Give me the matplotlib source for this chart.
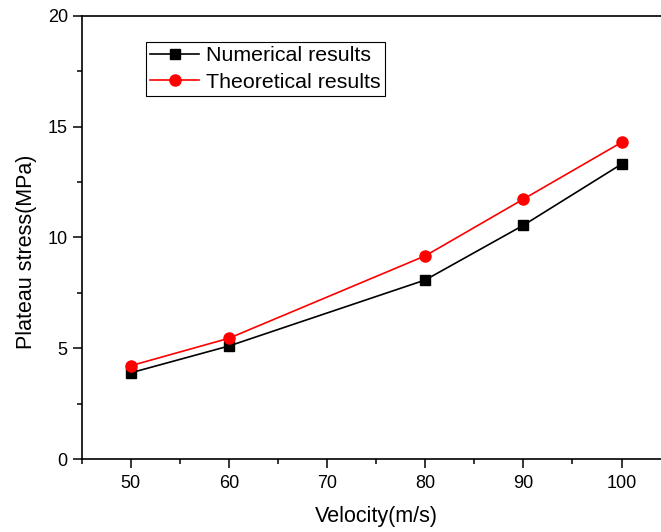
import numpy as np
import matplotlib.pyplot as plt
from matplotlib.ticker import MultipleLocator

# veri
hiz = [50, 60, 80, 90, 100]
sayisal = [3.89, 5.10, 8.08, 10.55, 13.31]
teorik = [4.21, 5.45, 9.17, 11.73, 14.29]

plt.rcParams['font.family'] = ['Liberation Sans', 'DejaVu Sans']

fig = plt.figure(figsize=(6.61, 5.32), dpi=100)
# eksen sag tarafi resmin disina tasiyor (orijinalde kirpilmis)
ax = fig.add_axes([0.1236, 0.1372, 0.891, 0.833])

ax.plot(hiz, sayisal, color="black", marker="s", markersize=7.5, linewidth=1.2,
        label="Numerical results")
ax.plot(hiz, teorik, color="red", marker="o", markersize=8, linewidth=1.2,
        label="Theoretical results")

ax.set_xlim(45, 105)
ax.set_ylim(0, 20)
ax.xaxis.set_major_locator(MultipleLocator(10))
ax.xaxis.set_minor_locator(MultipleLocator(5))
ax.yaxis.set_major_locator(MultipleLocator(5))
ax.yaxis.set_minor_locator(MultipleLocator(2.5))
ax.tick_params(which="major", direction="out", length=6.5, width=1.1, labelsize=13)
ax.tick_params(axis="x", which="major", pad=5)
ax.tick_params(which="minor", direction="out", length=3.5, width=1.1)
for s in ax.spines.values():
    s.set_linewidth(1.2)

ax.set_xlabel("Velocity(m/s)", fontsize=15.5, labelpad=10)
ax.set_ylabel("Plateau stress(MPa)", fontsize=15.5, labelpad=8)
ax.yaxis.label.set_y(0.467)  # orijinalde etiket biraz asagida

leg = ax.legend(loc="upper left", bbox_to_anchor=(0.109, 0.941), fontsize=15.4,
                frameon=True, fancybox=False, edgecolor="black", framealpha=1,
                handlelength=2.3, borderpad=0.2, labelspacing=0.34,
                handletextpad=0.3, borderaxespad=0)
leg.get_frame().set_linewidth(0.8)

fig.savefig("out.png", dpi=100)
